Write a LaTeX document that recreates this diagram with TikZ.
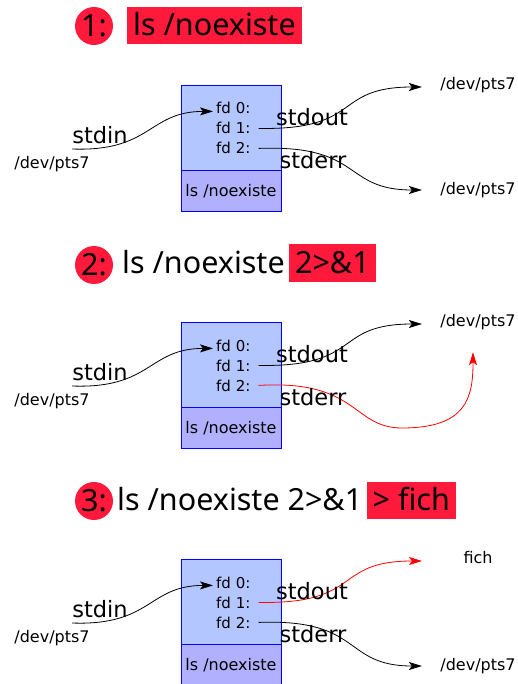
\documentclass[tikz,border=0pt]{standalone}
\usepackage{fontspec}
\setmainfont{DejaVu Sans}
\newfontfamily\titlefont{Noto Sans}
\usetikzlibrary{arrows.meta,positioning}
\definecolor{alarm}{RGB}{255,26,60}
\definecolor{procfill}{RGB}{179,198,255}
\definecolor{cmdfill}{RGB}{176,176,255}
\definecolor{boxline}{RGB}{0,0,255}

\begin{document}
\begin{tikzpicture}[x=1pt,y=-1pt,
    flow/.style={-{Stealth[length=13pt,width=8pt,inset=3pt]},line width=0.8pt},
    redir/.style={flow,draw=red},
    big/.style={font=\fontsize{22.5}{24}\selectfont},
    small/.style={font=\fontsize{16}{18}\selectfont},
    fd/.style={font=\fontsize{15}{17}\selectfont,anchor=base west,inner sep=3pt},
    proc/.style={draw=boxline,line width=0.8pt,fill=procfill,minimum width=100pt,minimum height=85pt},
    cmd/.style={draw=boxline,line width=0.8pt,fill=cmdfill,minimum width=100pt,minimum height=41pt,font=\fontsize{16}{18}\selectfont},
    badge/.style={circle,fill=alarm,minimum size=38pt,inner sep=0pt,font=\titlefont\fontsize{30.5}{33}\selectfont},
    ttl/.style={font=\titlefont\fontsize{30.5}{33}\selectfont,text height=22pt,text depth=1pt,inner sep=0pt},
    hilite/.style={ttl,fill=alarm,inner xsep=6pt,minimum height=37pt}]
    \useasboundingbox (0,0) rectangle (518,684);

    % process box, descriptors and stdin, same in every step
    \foreach \i in {0,1,2}{
        \begin{scope}[shift={(0,237*\i)}]
            \node[proc] (proc\i) at (231,127.5) {};
            \node[cmd, below=0pt of proc\i] (cmd\i) {ls /noexiste};
            \node[fd] (fdin\i) at (213,114) {fd 0:};
            \node[fd] (fdout\i) at (213,134) {fd 1:};
            \node[fd] (fderr\i) at (213,154) {fd 2:};
            \coordinate (tty\i) at (72,149);
            \node[small] (ttyname\i) at (52,164) {/dev/pts7};
            \draw[flow] (tty\i) .. controls +(80,3) and +(-65,0) .. ([yshift=-3pt]fdin\i.west);
            \node[big] (instr\i) at (100,135) {stdin};
        \end{scope}
    }

    % 1: ls /noexiste
    \node[badge] (numA) at (94,26) {1:};
    \node[hilite, anchor=west] (lineA) at (127,25.5) {ls /noexiste};
    \node[small] (outA) at (478,85) {/dev/pts7};
    \node[small] (errA) at (478,190) {/dev/pts7};
    \draw[flow] ([xshift=5pt]fdout0.east) .. controls +(105,2) and +(-90,0) .. ([shift={(-15,2)}]outA.west);
    \draw[flow] ([xshift=5pt]fderr0.east) .. controls +(105,-4) and +(-80,0) .. ([shift={(-15,0)}]errA.west);
    \node[big] (outlblA) at (312,117) {stdout};
    \node[big] (errlblA) at (313,160) {stderr};

    % 2: ls /noexiste 2>&1
    \begin{scope}[shift={(0,237)}]
        \node[badge] (numB) at (94,28) {2:};
        \node[ttl, anchor=west] (lineB) at (122,26) {ls /noexiste};
        \node[hilite, right=4pt of lineB] (redB) {2>\&1};
        \node[small] (outB) at (478,85) {/dev/pts7};
        \draw[flow] ([xshift=5pt]fdout1.east) .. controls +(105,2) and +(-90,0) .. ([shift={(-15,2)}]outB.west);
        \draw[redir] ([xshift=5pt]fderr1.east) .. controls +(100,-6) and +(-50,0) .. (402,191)
            .. controls +(65,0) and +(0,45) .. ([shift={(-5,19)}]outB.south);
        \node[big] (outlblB) at (312,117) {stdout};
        \node[big] (errlblB) at (313,160) {stderr};
    \end{scope}

    % 3: ls /noexiste 2>&1 > fich
    \begin{scope}[shift={(0,474)}]
        \node[badge] (numC) at (94,27) {3:};
        \node[ttl, anchor=west] (lineC) at (117,26) {ls /noexiste 2>\&1};
        \node[hilite, right=4pt of lineC] (redC) {> fich};
        \node[small] (outC) at (478,84) {fich};
        \node[small] (errC) at (478,192) {/dev/pts7};
        \draw[redir] ([xshift=5pt]fdout2.east) .. controls +(105,2) and +(-90,0) .. ([shift={(-38,3)}]outC.west);
        \draw[flow] ([xshift=5pt]fderr2.east) .. controls +(105,-4) and +(-80,0) .. ([shift={(-15,0)}]errC.west);
        \node[big] (outlblC) at (312,117) {stdout};
        \node[big] (errlblC) at (313,160) {stderr};
    \end{scope}
\end{tikzpicture}
\end{document}
